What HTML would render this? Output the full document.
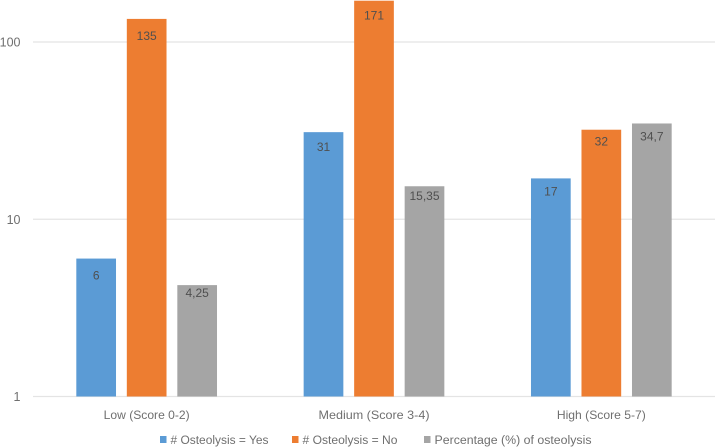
<!DOCTYPE html>
<html>
<head>
<meta charset="utf-8">
<style>
html,body{margin:0;padding:0;background:#fff;width:716px;height:447px;overflow:hidden}
svg{display:block}
text{font-family:"Liberation Sans",sans-serif;filter:blur(0.3px)}
</style>
</head>
<body>
<svg id="chart" width="716" height="447" viewBox="0 0 716 447" xmlns="http://www.w3.org/2000/svg"></svg>
<script>
const categories = ["Low (Score 0-2)", "Medium (Score 3-4)", "High (Score 5-7)"];
const seriesNames = ["# Osteolysis = Yes", "# Osteolysis = No", "Percentage (%) of osteolysis"];
const seriesYes = [6, 31, 17];
const seriesNo = [135, 171, 32];
const seriesPct = [4.25, 15.35, 34.7];
const valueLabelsYes = ["6", "31", "17"];
const valueLabelsNo = ["135", "171", "32"];
const valueLabelsPct = ["4,25", "15,35", "34,7"];
const yTicks = [1, 10, 100];

const NS = "http://www.w3.org/2000/svg";
const svg = document.getElementById("chart");
const seriesColors = ["#5b9bd5", "#ed7d31", "#a5a5a5"];
const plotLeft = 33, plotRight = 715, yOne = 396.5, decade = 177.25;
const barW = 39.7, barStep = 50.5;
/* Layout settings: how far each value label sits below its bar top, and fitted text widths. */
const labelDrops = [[21, 19, 17], [21, 19, 16], [12, 13.5, 17]];
const categoryWidths = [86, 111, 89];
const legendSwatchX = [160, 292, 424];
const legendWidths = [98, 95, 157];

function yScale(v){ return yOne - Math.log10(v) * decade; }
function groupCenter(i){ return plotLeft + (plotRight - plotLeft) * (i + 0.5) / categories.length; }
function barX(i, s){ return groupCenter(i) + (s - 1) * barStep - barW / 2; }
function mk(tag, attrs, txt){
  const e = document.createElementNS(NS, tag);
  for (const k in attrs) e.setAttribute(k, attrs[k]);
  if (txt !== undefined) e.textContent = txt;
  svg.appendChild(e);
  return e;
}

yTicks.forEach(function(t){
  const y = yScale(t);
  const line = mk("line", {x1: plotLeft, x2: plotRight, y1: y, y2: y, stroke: "#e4e4e4", "stroke-width": 1.2});
  
  
  const lab = mk("text", {x: 20.5, y: y + 4.5, "text-anchor": "end", "font-size": 12.5, fill: "#6f6f6f"}, String(t));
  
  
});

const allSeries = [seriesYes, seriesNo, seriesPct];
const allLabels = [valueLabelsYes, valueLabelsNo, valueLabelsPct];
allSeries.forEach(function(vals, s){
  vals.forEach(function(v, i){
    const x = barX(i, s), y = yScale(v);
    const bar = mk("rect", {x: x, y: y, width: barW, height: yOne - y, fill: seriesColors[s]});
    
    
    const lab = mk("text", {x: x + barW / 2, y: y + labelDrops[s][i], "text-anchor": "middle", "font-size": 12, fill: "#4f4f4f"}, allLabels[s][i]);
    
    
  });
});

categories.forEach(function(c, i){
  const lab = mk("text", {x: groupCenter(i), y: 419, "text-anchor": "middle", "font-size": 12, fill: "#6f6f6f", textLength: categoryWidths[i], lengthAdjust: "spacingAndGlyphs"}, c);
  
  
});

seriesNames.forEach(function(n, s){
  const sw = mk("rect", {x: legendSwatchX[s], y: 436, width: 6.5, height: 7, fill: seriesColors[s]});
  
  
  const lab = mk("text", {x: legendSwatchX[s] + 10.5, y: 444, "font-size": 11.5, fill: "#6f6f6f", textLength: legendWidths[s], lengthAdjust: "spacingAndGlyphs"}, n);
  
  
});
</script>
</body>
</html>
